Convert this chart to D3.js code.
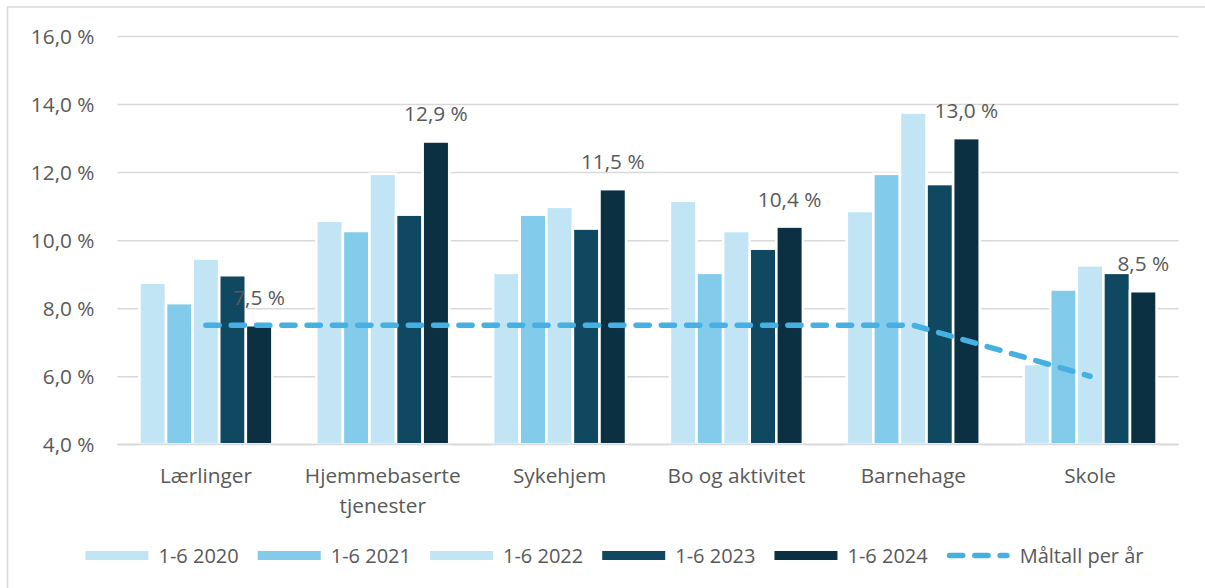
<!DOCTYPE html>
<html lang="no">
<head>
<meta charset="utf-8">
<script src="https://cdn.jsdelivr.net/npm/d3@7/dist/d3.min.js"></script>
<style>
  html, body { margin: 0; padding: 0; background: #ffffff; }
  svg { display: block; }
  text { font-family: "Open Sans", "Liberation Sans", sans-serif; fill: #595959; }
</style>
</head>
<body>
<svg id="chart" width="1205" height="588"></svg>
<script>
// Categories (a "\n" splits a label over two lines)
const categories = ["Lærlinger", "Hjemmebaserte\ntjenester", "Sykehjem", "Bo og aktivitet", "Barnehage", "Skole"];

// Sick-leave share per period, in percent
const seriesNames = ["1-6 2020", "1-6 2021", "1-6 2022", "1-6 2023", "1-6 2024"];
const v2020 = [8.75, 10.57, 9.04, 11.16, 10.86, 6.36];
const v2021 = [8.15, 10.27, 10.75, 9.04, 11.95, 8.55];
const v2022 = [9.46, 11.95, 10.98, 10.27, 13.75, 9.26];
const v2023 = [8.97, 10.75, 10.34, 9.75, 11.65, 9.04];
const v2024 = [7.5, 12.9, 11.5, 10.4, 13.0, 8.5];

// Target per year
const targetName = "Måltall per år";
const target = [7.5, 7.5, 7.5, 7.5, 7.5, 6.0];

// Value axis ticks
const yTicks = [4, 6, 8, 10, 12, 14, 16];

const seriesValues = [v2020, v2021, v2022, v2023, v2024];
const colors = ["#c1e5f5", "#83cbeb", "#c1e5f5", "#104862", "#0b3041"];
const lineColor = "#45b0e1";
const gridColor = "#d9d9d9";
const fontSize = 20.8;
const legendFontSize = 20;

const pct = v => d3.format(".1f")(v).replace(".", ",") + " %";

const svg = d3.select("#chart");

// outer chart frame
svg.append("rect")
  .attr("x", 7.5).attr("y", 7).attr("width", 1230).attr("height", 610)
  .attr("fill", "none").attr("stroke", gridColor).attr("stroke-width", 1.5);

const plot = { left: 117.5, right: 1178.5, top: 36, bottom: 444.3 };

const y = d3.scaleLinear().domain([4, 16]).range([plot.bottom, plot.top]);
const x = d3.scaleBand().domain(categories).range([plot.left, plot.right])
  .paddingInner(0.248).paddingOuter(0.124);
const xs = d3.scaleBand().domain(d3.range(seriesNames.length)).range([0, x.bandwidth()]);

// value axis with gridlines
const yAxis = svg.append("g")
  .attr("transform", `translate(${plot.left},0)`)
  .call(d3.axisLeft(y).tickValues(yTicks).tickFormat(pct)
    .tickSize(-(plot.right - plot.left)).tickPadding(23));
yAxis.select(".domain").remove();
yAxis.selectAll(".tick line").attr("stroke", gridColor).attr("stroke-width", 1.5);
yAxis.selectAll(".tick text").attr("font-size", fontSize).attr("fill", "#595959").attr("dy", "0.36em");

// bars
const groups = svg.append("g").selectAll("g")
  .data(seriesValues)
  .join("g")
  .attr("fill", (d, i) => colors[i]);

groups.selectAll("rect")
  .data((vals, si) => vals.map((v, ci) => ({ v, ci, si })))
  .join("rect")
  .attr("x", d => x(categories[d.ci]) + xs(d.si))
  .attr("width", xs.bandwidth())
  .attr("y", d => y(d.v))
  .attr("height", d => y(4) - y(d.v))
  .attr("stroke", "#ffffff")
  .attr("stroke-width", 2.6);

// baseline over the bar bottoms
svg.append("line")
  .attr("x1", plot.left).attr("x2", plot.right)
  .attr("y1", y(4)).attr("y2", y(4))
  .attr("stroke", gridColor).attr("stroke-width", 1.5);

// category axis
const xAxis = svg.append("g")
  .attr("transform", `translate(0,${plot.bottom})`)
  .call(d3.axisBottom(x).tickSize(0).tickPadding(0));
xAxis.select(".domain").remove();
xAxis.selectAll(".tick text").each(function (d) {
  const t = d3.select(this).text(null).attr("dy", null).attr("y", 39)
    .attr("font-size", fontSize).attr("fill", "#595959");
  d.split("\n").forEach((line, i) => {
    t.append("tspan").attr("x", 0).attr("dy", i === 0 ? 0 : 29.5).text(line);
  });
});

// labels on the latest period
const last = seriesValues.length - 1;
svg.append("g").selectAll("text")
  .data(v2024)
  .join("text")
  .attr("x", (v, i) => x(categories[i]) + xs(last) + xs.bandwidth() / 2)
  .attr("y", v => y(v) - 20)
  .attr("text-anchor", "middle")
  .attr("font-size", fontSize)
  .text(pct);

// target line
const dash = "13.2,12.1";
svg.append("path")
  .datum(target)
  .attr("d", d3.line().x((v, i) => x(categories[i]) + x.bandwidth() / 2).y(v => y(v)))
  .attr("fill", "none")
  .attr("stroke", lineColor)
  .attr("stroke-width", 5.5)
  .attr("stroke-linecap", "round")
  .attr("stroke-dasharray", dash);

// legend
const legendItems = seriesNames.map((n, i) => ({ name: n, color: colors[i], line: false }))
  .concat([{ name: targetName, color: lineColor, line: true }]);
const legend = svg.append("g");
const swatchW = 63, swatchGap = 10, itemGap = 19, legendY = 555.5;
let cursor = 0;
legendItems.forEach(item => {
  const g = legend.append("g").attr("transform", `translate(${cursor},0)`);
  if (item.line) {
    g.append("line")
      .attr("x1", 2.8).attr("x2", swatchW - 2.8)
      .attr("y1", legendY).attr("y2", legendY)
      .attr("stroke", item.color).attr("stroke-width", 5.5)
      .attr("stroke-linecap", "round").attr("stroke-dasharray", dash);
  } else {
    g.append("rect")
      .attr("x", 0).attr("y", legendY - 4.5)
      .attr("width", swatchW).attr("height", 9)
      .attr("fill", item.color);
  }
  const t = g.append("text")
    .attr("x", swatchW + swatchGap).attr("y", legendY).attr("dy", "0.36em")
    .attr("font-size", legendFontSize).text(item.name);
  cursor += swatchW + swatchGap + t.node().getComputedTextLength() + itemGap;
});
const legendWidth = cursor - itemGap;
legend.attr("transform", `translate(${614.5 - legendWidth / 2},0)`);
</script>
</body>
</html>
